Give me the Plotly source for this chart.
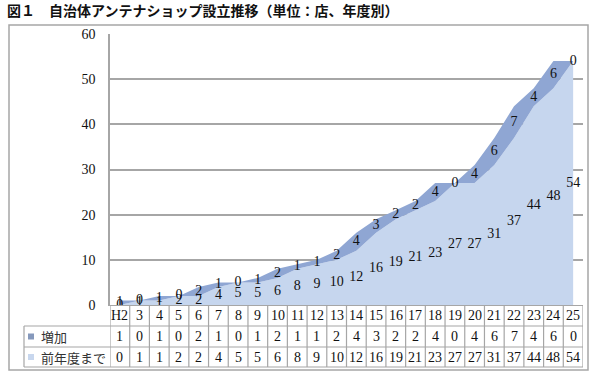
import plotly.graph_objects as go

categories = ["H2", "3", "4", "5", "6", "7", "8", "9", "10", "11", "12", "13",
              "14", "15", "16", "17", "18", "19", "20", "21", "22", "23", "24", "25"]
increase = [1, 0, 1, 0, 2, 1, 0, 1, 2, 1, 1, 2, 4, 3, 2, 2, 4, 0, 4, 6, 7, 4, 6, 0]
previous = [0, 1, 1, 2, 2, 4, 5, 5, 6, 8, 9, 10, 12, 16, 19, 21, 23, 27, 27, 31, 37, 44, 48, 54]
series_names = ["増加", "前年度まで"]
title_text = "図１　自治体アンテナショップ設立推移（単位：店、年度別）"

DARK = "#8FA6D3"
LIGHT = "#C6D6EE"
LEG_DARK = "#8699BC"
LEG_LIGHT = "#C8D7EE"
GRID = "#A6A6A6"
SERIF = "Liberation Serif, DejaVu Serif, serif"
JP = "Noto Sans CJK JP, sans-serif"

W, H = 593, 376
L, R, T, B = 110, 10, 34, 71
PW, PH = W - L - R, H - T - B


def px(xp):
    return (xp - L) / PW


def py(yp):
    return (H - B - yp) / PH


fig = go.Figure()
fig.add_trace(go.Scatter(x=categories, y=previous, stackgroup="s", mode="none",
                         fillcolor=LIGHT, name=series_names[1], hoverinfo="skip"))
fig.add_trace(go.Scatter(x=categories, y=increase, stackgroup="s", mode="none",
                         fillcolor=DARK, name=series_names[0], hoverinfo="skip"))

# data labels, centred vertically in each band
fig.add_trace(go.Scatter(x=categories, y=[p / 2 for p in previous], mode="text",
                         text=[str(v) for v in previous],
                         textfont=dict(family=SERIF, size=14, color="#111"),
                         hoverinfo="skip", showlegend=False))
fig.add_trace(go.Scatter(x=categories, y=[p + i / 2 for p, i in zip(previous, increase)],
                         mode="text", text=[str(v) for v in increase],
                         textfont=dict(family=SERIF, size=14, color="#111"),
                         hoverinfo="skip", showlegend=False))

shapes = []
annotations = []

# outer frame
shapes.append(dict(type="rect", xref="paper", yref="paper",
                   x0=px(9), x1=px(588), y0=py(370), y1=py(25),
                   line=dict(color=GRID, width=1.5), layer="below"))

# data table
row_top, row1, row2, row_bot = py(305), py(326), py(347), py(367)
for i in range(len(categories) + 1):
    shapes.append(dict(type="line", xref="x", yref="paper", x0=i - 0.5, x1=i - 0.5,
                       y0=row_bot, y1=row_top, line=dict(color=GRID, width=1.2)))
for yy in (row1, row2, row_bot):
    shapes.append(dict(type="line", xref="paper", yref="paper", x0=px(24), x1=1,
                       y0=yy, y1=yy, line=dict(color=GRID, width=1.2)))
shapes.append(dict(type="line", xref="paper", yref="paper", x0=px(24), x1=px(24),
                   y0=row_bot, y1=row1, line=dict(color=GRID, width=1.2)))

cat_y = (row_top + row1) / 2
inc_y = (row1 + row2) / 2
prev_y = (row2 + row_bot) / 2
for idx, (c, a, b) in enumerate(zip(categories, increase, previous)):
    for yy, t in ((cat_y, c), (inc_y, str(a)), (prev_y, str(b))):
        annotations.append(dict(x=idx, y=yy, xref="x", yref="paper", text=t,
                                showarrow=False, xanchor="center", yanchor="middle",
                                font=dict(family=SERIF, size=14, color="#111")))

# legend keys in table
for yy, name, col in ((inc_y, series_names[0], LEG_DARK), (prev_y, series_names[1], LEG_LIGHT)):
    ycen_px = H - B - yy * PH
    shapes.append(dict(type="rect", xref="paper", yref="paper",
                       x0=px(28), x1=px(34), y0=py(ycen_px + 3), y1=py(ycen_px - 3),
                       fillcolor=col, line=dict(width=0)))
    annotations.append(dict(x=px(39), y=yy, xref="paper", yref="paper", text=name,
                            showarrow=False, xanchor="left", yanchor="middle",
                            font=dict(family=JP, size=13, color="#333")))

# title
annotations.append(dict(x=px(5), y=py(10), xref="paper", yref="paper", text=title_text,
                        showarrow=False, xanchor="left", yanchor="middle",
                        font=dict(family=JP, size=14, color="#111", weight="bold")))

fig.update_layout(
    width=W, height=H,
    margin=dict(l=L, r=R, t=T, b=B, pad=0),
    paper_bgcolor="white", plot_bgcolor="white",
    showlegend=False,
    shapes=shapes, annotations=annotations,
    xaxis=dict(type="category", range=[-0.5, len(categories) - 0.5],
               showticklabels=False, showgrid=False, zeroline=False,
               showline=True, linecolor=GRID, linewidth=1.2, ticks=""),
    yaxis=dict(range=[0, 60], dtick=10, showgrid=True, gridcolor=GRID, gridwidth=1.5,
               zeroline=False, showline=True, linecolor=GRID, linewidth=1.5,
               ticks="", ticklabelstandoff=10,
               tickfont=dict(family=SERIF, size=14, color="#111")),
)

fig.write_html("out.html", config={"displayModeBar": False},
               post_script="document.body.style.margin='0';document.body.style.overflow='hidden';")
